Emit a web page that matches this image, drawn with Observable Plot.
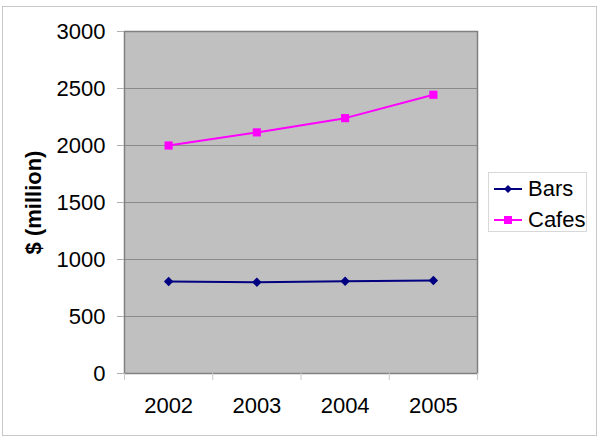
<!DOCTYPE html>
<html>
<head>
<meta charset="utf-8">
<script src="https://cdn.jsdelivr.net/npm/d3@7"></script>
<script src="https://cdn.jsdelivr.net/npm/@observablehq/plot@0.6"></script>
<style>
  html, body { margin: 0; padding: 0; background: #fff; }
  #wrap { position: relative; width: 600px; height: 439px; overflow: hidden; font-family: "Liberation Sans", Arial, sans-serif; }
  #border { position: absolute; left: 2px; top: 6px; width: 593px; height: 428px; border: 1px solid #c8c8c8; pointer-events: none; }
  #legend { position: absolute; left: 488px; top: 172px; width: 99px; height: 60px; border: 1px solid #d8d8d8; background: #fff; box-sizing: border-box; }
  .item { position: absolute; left: 5px; height: 26px; display: flex; align-items: center; font-size: 22px; color: #000; }
  .item svg { margin-right: 6px; }
</style>
</head>
<body>
<div id="wrap"><div id="chart"></div><div id="border"></div><div id="legend"></div></div>
<script>
const years = [2002, 2003, 2004, 2005];
const bars = [807, 801, 810, 816];
const cafes = [2000, 2115, 2240, 2445];
const yTicks = [0, 500, 1000, 1500, 2000, 2500, 3000];
const seriesNames = ["Bars", "Cafes"];
const seriesColors = ["#000080", "#FF00FF"];
const yLabel = "$ (million)";

const data = [];
years.forEach((yr, i) => {
  data.push({year: yr, series: "Bars", value: bars[i]});
  data.push({year: yr, series: "Cafes", value: cafes[i]});
});
const boundaries = [years[0] - 0.5, ...years.map(y => y + 0.5)];

const chart = Plot.plot({
  width: 600,
  height: 439,
  marginLeft: 124,
  marginRight: 123,
  marginTop: 31,
  marginBottom: 66,
  style: {fontFamily: "'Liberation Sans', Arial, sans-serif", background: "transparent"},
  x: {type: "linear", domain: [years[0] - 0.5, years[years.length - 1] + 0.5], axis: null},
  y: {type: "linear", domain: [0, 3000], axis: null},
  marks: [
    Plot.frame({fill: "#C0C0C0"}),
    Plot.gridY(yTicks, {stroke: "#8a8a8a", strokeOpacity: 1, strokeWidth: 1}),
    Plot.frame({stroke: "#808080", strokeWidth: 1.5}),
    Plot.axisY(yTicks, {tickSize: 7, tickPadding: 12, fontSize: 22, stroke: "#b0b0b0", fill: "#000", label: null, tickFormat: d => String(d)}),
    Plot.axisX(years, {tickSize: 0, tickPadding: 24, fontSize: 22, fill: "#000", label: null, tickFormat: d => String(d)}),
    Plot.axisX(boundaries, {tickSize: 7, tickFormat: () => "", stroke: "#c8c8c8", label: null}),
    Plot.line(data, {x: "year", y: "value", z: "series", stroke: d => d.series === "Bars" ? seriesColors[0] : seriesColors[1], strokeWidth: 2}),
    Plot.dot(data.filter(d => d.series === "Bars"), {x: "year", y: "value", symbol: "diamond2", r: 3.3, fill: seriesColors[0], stroke: seriesColors[0]}),
    Plot.dot(data.filter(d => d.series === "Cafes"), {x: "year", y: "value", symbol: "square", r: 4.6, fill: seriesColors[1], stroke: "none"}),
    Plot.text([yLabel], {frameAnchor: "left", textAnchor: "middle", dx: -91, rotate: -90, fontSize: 22, fontWeight: "bold", fill: "#000"})
  ]
});
document.getElementById("chart").appendChild(chart);

// Legend
const legend = document.getElementById("legend");
const symbols = [
  '<polygon points="14,4 18,8 14,12 10,8" fill="#000080"/>',
  '<rect x="10" y="4" width="8" height="8" fill="#FF00FF"/>'
];
seriesNames.forEach((name, i) => {
  const div = document.createElement("div");
  div.className = "item";
  div.style.top = (i === 0 ? 3 : 34) + "px";
  div.innerHTML = `<svg width="28" height="16"><line x1="0" y1="8" x2="28" y2="8" stroke="${seriesColors[i]}" stroke-width="2"/>${symbols[i]}</svg><span>${name}</span>`;
  legend.appendChild(div);
});
</script>
</body>
</html>
